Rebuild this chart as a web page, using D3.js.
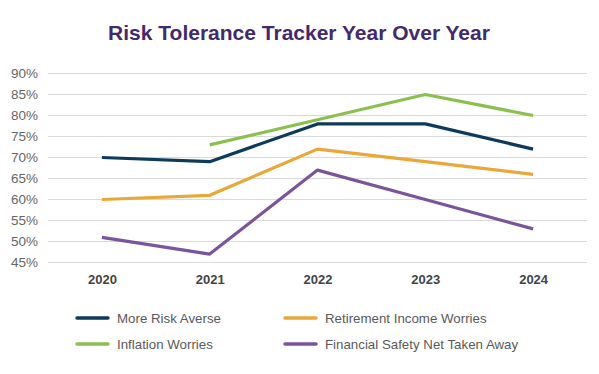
<!DOCTYPE html>
<html>
<head>
<meta charset="utf-8">
<script src="https://cdn.jsdelivr.net/npm/d3@7"></script>
<style>
  body { margin: 0; background: #fff; }
  svg { display: block; font-family: "Liberation Sans", Arial, sans-serif; }
</style>
</head>
<body>
<svg id="chart" width="599" height="374"></svg>
<script>
const years = ['2020', '2021', '2022', '2023', '2024'];
const yTicks = [45, 50, 55, 60, 65, 70, 75, 80, 85, 90];

const moreRiskAverse = [70, 69, 78, 78, 72];
const retirementWorries = [60, 61, 72, 69, 66];
const inflationWorries = [null, 73, 79, 85, 80];
const safetyNetTaken = [51, 47, 67, 60, 53];

const seriesNames = ['More Risk Averse', 'Retirement Income Worries', 'Inflation Worries', 'Financial Safety Net Taken Away'];
const seriesColors = ['#0e3a5b', '#e8a83a', '#8cc04e', '#7a559c'];

const series = [moreRiskAverse, retirementWorries, inflationWorries, safetyNetTaken]
    .map((values, i) => ({name: seriesNames[i], color: seriesColors[i], values}));

const svg = d3.select('#chart');

// plot area
const plotLeft = 48, plotRight = 587, plotTop = 73.5, plotBottom = 262.5;

const x = d3.scalePoint().domain(years).range([plotLeft, plotRight]).padding(0.5);
const y = d3.scaleLinear().domain([45, 90]).range([plotBottom, plotTop]);

svg.append('text')
    .attr('x', 299)
    .attr('y', 40)
    .attr('text-anchor', 'middle')
    .attr('fill', '#432a6c')
    .style('font-size', '21px')
    .style('font-weight', 'bold')
    .text('Risk Tolerance Tracker Year Over Year');

// gridlines
svg.append('g')
    .selectAll('line')
    .data(yTicks)
    .enter()
    .append('line')
    .attr('x1', plotLeft)
    .attr('x2', plotRight)
    .attr('y1', d => y(d))
    .attr('y2', d => y(d))
    .attr('stroke', '#d9d9d9')
    .attr('stroke-width', 1.2);

// y axis labels
const yAxis = svg.append('g')
    .attr('transform', `translate(${plotLeft},0)`)
    .call(d3.axisLeft(y).tickValues(yTicks).tickSize(0).tickPadding(10).tickFormat(d => d + '%'));
yAxis.select('.domain').remove();
yAxis.selectAll('text')
    .attr('fill', '#666')
    .style('font-size', '13.5px')
    .style('font-family', '"Liberation Sans", Arial, sans-serif');

// x axis labels
const xAxis = svg.append('g')
    .attr('transform', `translate(0,${plotBottom})`)
    .call(d3.axisBottom(x).tickSize(0).tickPadding(12));
xAxis.select('.domain').remove();
xAxis.selectAll('text')
    .attr('fill', '#444')
    .style('font-size', '13px')
    .style('font-weight', 'bold')
    .style('font-family', '"Liberation Sans", Arial, sans-serif');

const line = d3.line()
    .defined(d => d != null)
    .x((d, i) => x(years[i]))
    .y(d => y(d));

svg.append('g')
    .selectAll('path')
    .data(series)
    .enter()
    .append('path')
    .attr('d', d => line(d.values))
    .attr('fill', 'none')
    .attr('stroke', d => d.color)
    .attr('stroke-width', 3.2)
    .attr('stroke-linejoin', 'round');

// legend
const legendCols = [77, 285];
const legendRows = [318, 344];
const legend = svg.append('g')
    .selectAll('g')
    .data(series)
    .enter()
    .append('g')
    .attr('transform', (d, i) => `translate(${legendCols[i % 2]},${legendRows[Math.floor(i / 2)]})`);

legend.append('line')
    .attr('x1', 0)
    .attr('x2', 31)
    .attr('stroke', d => d.color)
    .attr('stroke-width', 3.5)
    .attr('stroke-linecap', 'round');

legend.append('text')
    .attr('x', 40)
    .attr('dy', '0.35em')
    .attr('fill', '#595959')
    .style('font-size', '13.3px')
    .text(d => d.name);
</script>
</body>
</html>
